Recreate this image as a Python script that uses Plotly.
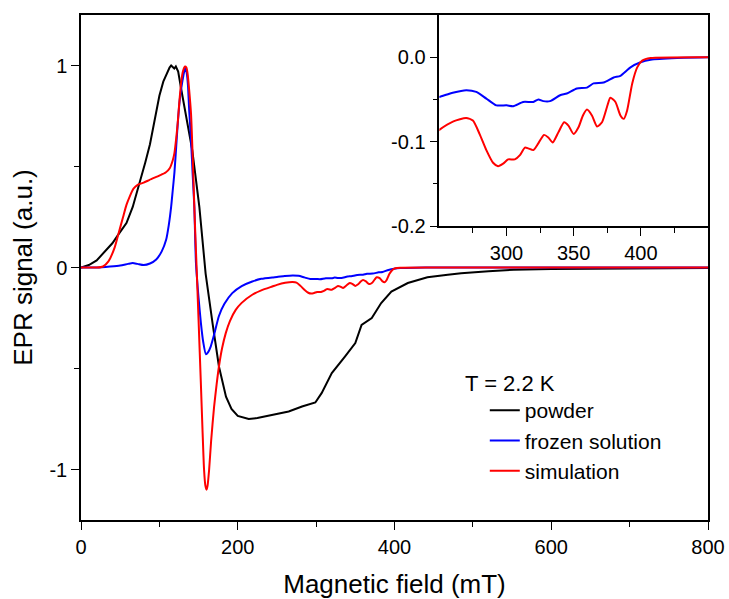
import plotly.graph_objects as go

# ---------------- data ----------------
powder_x = [0, 10, 20, 30, 40, 48, 58, 66, 75, 82, 88, 95, 100, 105, 110, 113, 115, 117, 119, 121, 124, 128,
            134, 142, 151, 159, 168, 176, 185, 192, 200, 214, 225, 240, 255, 265, 282, 299, 307, 320, 337,
            350, 358, 371, 383, 396, 417, 442, 468, 485, 520, 552, 600, 650, 700, 750, 800]
powder_y = [0.0, 0.012, 0.035, 0.075, 0.12, 0.165, 0.22, 0.30, 0.42, 0.52, 0.61, 0.74, 0.85, 0.92, 0.97,
            0.99, 1.0, 0.99, 0.985, 0.995, 0.97, 0.88, 0.75, 0.58, 0.30, -0.03, -0.28, -0.49, -0.64, -0.70,
            -0.735, -0.75, -0.745, -0.734, -0.722, -0.713, -0.688, -0.668, -0.622, -0.523, -0.44, -0.374,
            -0.284, -0.25, -0.176, -0.119, -0.077, -0.048, -0.036, -0.028, -0.018, -0.011, -0.008, -0.006,
            -0.005, -0.003, -0.002]

frozen_x = [0, 20, 37, 50, 60, 66, 72, 80, 88, 96, 103, 108.6, 112, 115, 117, 119.2, 121.5, 123.4, 126,
            129.7, 133, 135, 136.5, 138, 140.4, 142.5, 144.6, 146.7, 150, 153, 156, 159.4, 162, 165.6, 170,
            176, 183, 193, 205, 218.5, 230, 244, 250, 260, 270, 277.5, 285, 292.5, 300, 305, 312.4, 320,
            323.7, 327.4, 332.4, 339.9, 344.9, 352.4, 359.9, 364.8, 372.3, 379.8, 384.8, 392.3, 399.8,
            407.3, 427, 450, 500, 600, 700, 800]
frozen_y = [0.0, 0.0, 0.005, 0.01, 0.018, 0.022, 0.018, 0.012, 0.02, 0.04, 0.08, 0.137, 0.21, 0.30, 0.38,
            0.47, 0.60, 0.71, 0.83, 0.93, 0.99, 0.96, 0.90, 0.78, 0.63, 0.46, 0.30, 0.02, -0.15, -0.275,
            -0.37, -0.43, -0.42, -0.39, -0.33, -0.24, -0.18, -0.127, -0.092, -0.069, -0.056, -0.049, -0.047,
            -0.042, -0.039, -0.041, -0.049, -0.057, -0.057, -0.058, -0.053, -0.053, -0.050, -0.052, -0.052,
            -0.045, -0.043, -0.037, -0.036, -0.031, -0.030, -0.024, -0.022, -0.012, -0.006, -0.003, -0.001,
            0.0, 0.0, 0.0, 0.0, 0.0]

sim_x = [0, 20, 28, 35, 43, 48, 53.7, 58, 62, 67, 72.7, 80, 87.5, 100, 108, 113, 117, 119.2, 121.5, 123.4,
         125.5, 127.7, 130, 132.7, 134.5, 136, 138, 140.4, 142.5, 144.6, 146, 148, 150, 153, 155, 157,
         158.7, 160.2, 161.5, 163.5, 166, 169.8, 173, 176, 180, 184.7, 190, 197.4, 205, 218.5, 230, 244,
         250, 260.5, 270, 275, 280, 285, 290, 293.7, 297.5, 301.2, 306.2, 310, 313.7, 316.2, 320, 323.7,
         327.9, 331.1, 334.4, 338.6, 342.9, 346.1, 350, 353.6, 356.9, 359.9, 363.6, 367.4, 371.1, 374.8,
         377.3, 381.1, 384.8, 387.3, 389.8, 393.6, 397.3, 401, 407.3, 450, 500, 600, 700, 800]
sim_y = [0.0, 0.0, 0.005, 0.03, 0.10, 0.17, 0.25, 0.31, 0.35, 0.39, 0.41, 0.42, 0.434, 0.455, 0.47, 0.49,
         0.53, 0.566, 0.64, 0.715, 0.82, 0.913, 0.97, 0.995, 0.99, 0.96, 0.88, 0.76, 0.55, 0.30, 0.15,
         -0.05, -0.26, -0.58, -0.80, -1.0, -1.08, -1.10, -1.08, -1.0, -0.86, -0.69, -0.58, -0.49, -0.40,
         -0.325, -0.265, -0.21, -0.175, -0.135, -0.113, -0.094, -0.086, -0.076, -0.072, -0.075, -0.091,
         -0.110, -0.125, -0.129, -0.126, -0.121, -0.121, -0.116, -0.107, -0.108, -0.110, -0.102, -0.092,
         -0.095, -0.101, -0.089, -0.077, -0.081, -0.091, -0.083, -0.069, -0.062, -0.069, -0.082, -0.077,
         -0.059, -0.048, -0.053, -0.069, -0.073, -0.063, -0.031, -0.012, -0.004, -0.001, 0.0, 0.0, 0.0,
         0.0, 0.0]

series = [
    ("powder", powder_x, powder_y, "#000000", "linear"),
    ("frozen solution", frozen_x, frozen_y, "#0000FF", "spline"),
    ("simulation", sim_x, sim_y, "#FF0000", "spline"),
]

legend_title = "T = 2.2 K"
main_x_ticks = [0, 200, 400, 600, 800]
main_y_ticks = [-1, 0, 1]
main_y_labels = ["-1", "0", "1"]
inset_x_ticks = [300, 350, 400]
inset_y_ticks = [-0.2, -0.1, 0.0]
inset_y_labels = ["-0.2", "-0.1", "0.0"]

FONT = "Arial, Liberation Sans, sans-serif"

fig = go.Figure()
for name, xs, ys, col, shape in series:
    fig.add_trace(go.Scatter(x=xs, y=ys, mode="lines", name=name,
                             line=dict(color=col, width=2, shape=shape, smoothing=0.6)))
for name, xs, ys, col, shape in series[1:]:
    fig.add_trace(go.Scatter(x=xs, y=ys, mode="lines", name=name, showlegend=False,
                             xaxis="x2", yaxis="y2",
                             line=dict(color=col, width=2, shape=shape, smoothing=0.6)))

axis_common = dict(showline=True, linecolor="black", linewidth=1.5, mirror=True, ticks="outside",
                   tickcolor="black", showgrid=False, zeroline=False, automargin=False,
                   tickfont=dict(family=FONT, size=20, color="black"))

fig.update_layout(
    width=729, height=599,
    margin=dict(l=81, r=21, t=15, b=79, autoexpand=False),
    paper_bgcolor="white", plot_bgcolor="white",
    font=dict(family=FONT, color="black"),
    xaxis=dict(axis_common, range=[0, 800], tickvals=main_x_ticks, ticklen=8,
               minor=dict(dtick=100, ticklen=5, ticks="outside", tickcolor="black"),
               title=dict(text="Magnetic field (mT)", font=dict(family=FONT, size=26), standoff=18),
               domain=[0, 1]),
    yaxis=dict(axis_common, range=[-1.25, 1.25], tickvals=main_y_ticks, ticktext=main_y_labels, ticklen=8,
               minor=dict(dtick=0.5, ticklen=5, ticks="outside", tickcolor="black"),
               title=dict(text="EPR signal (a.u.)", font=dict(family=FONT, size=26), standoff=9),
               domain=[0, 1]),
    xaxis2=dict(axis_common, range=[250, 450], tickvals=inset_x_ticks, ticklen=8,
                minor=dict(tickvals=[275, 325, 375, 425], ticklen=5, ticks="outside", tickcolor="black"),
                domain=[0.5715, 1], anchor="y2"),
    yaxis2=dict(axis_common, range=[-0.2, 0.05], tickvals=inset_y_ticks, ticktext=inset_y_labels, ticklen=8,
                minor=dict(tickvals=[-0.15, -0.05], ticklen=5, ticks="outside", tickcolor="black"),
                domain=[0.582, 1], anchor="x2"),
    showlegend=True,
    legend=dict(x=0.644, y=0.2574, xanchor="left", yanchor="top",
                bgcolor="rgba(0,0,0,0)", borderwidth=0,
                font=dict(family=FONT, size=21, color="black")),
    annotations=[dict(text=legend_title, xref="paper", yref="paper", x=0.6092, y=0.271,
                      xanchor="left", yanchor="middle", showarrow=False,
                      font=dict(family=FONT, size=22, color="black"))],
)

fig.write_html("out.html", config={"displayModeBar": False},
               post_script="document.body.style.margin='0';")
